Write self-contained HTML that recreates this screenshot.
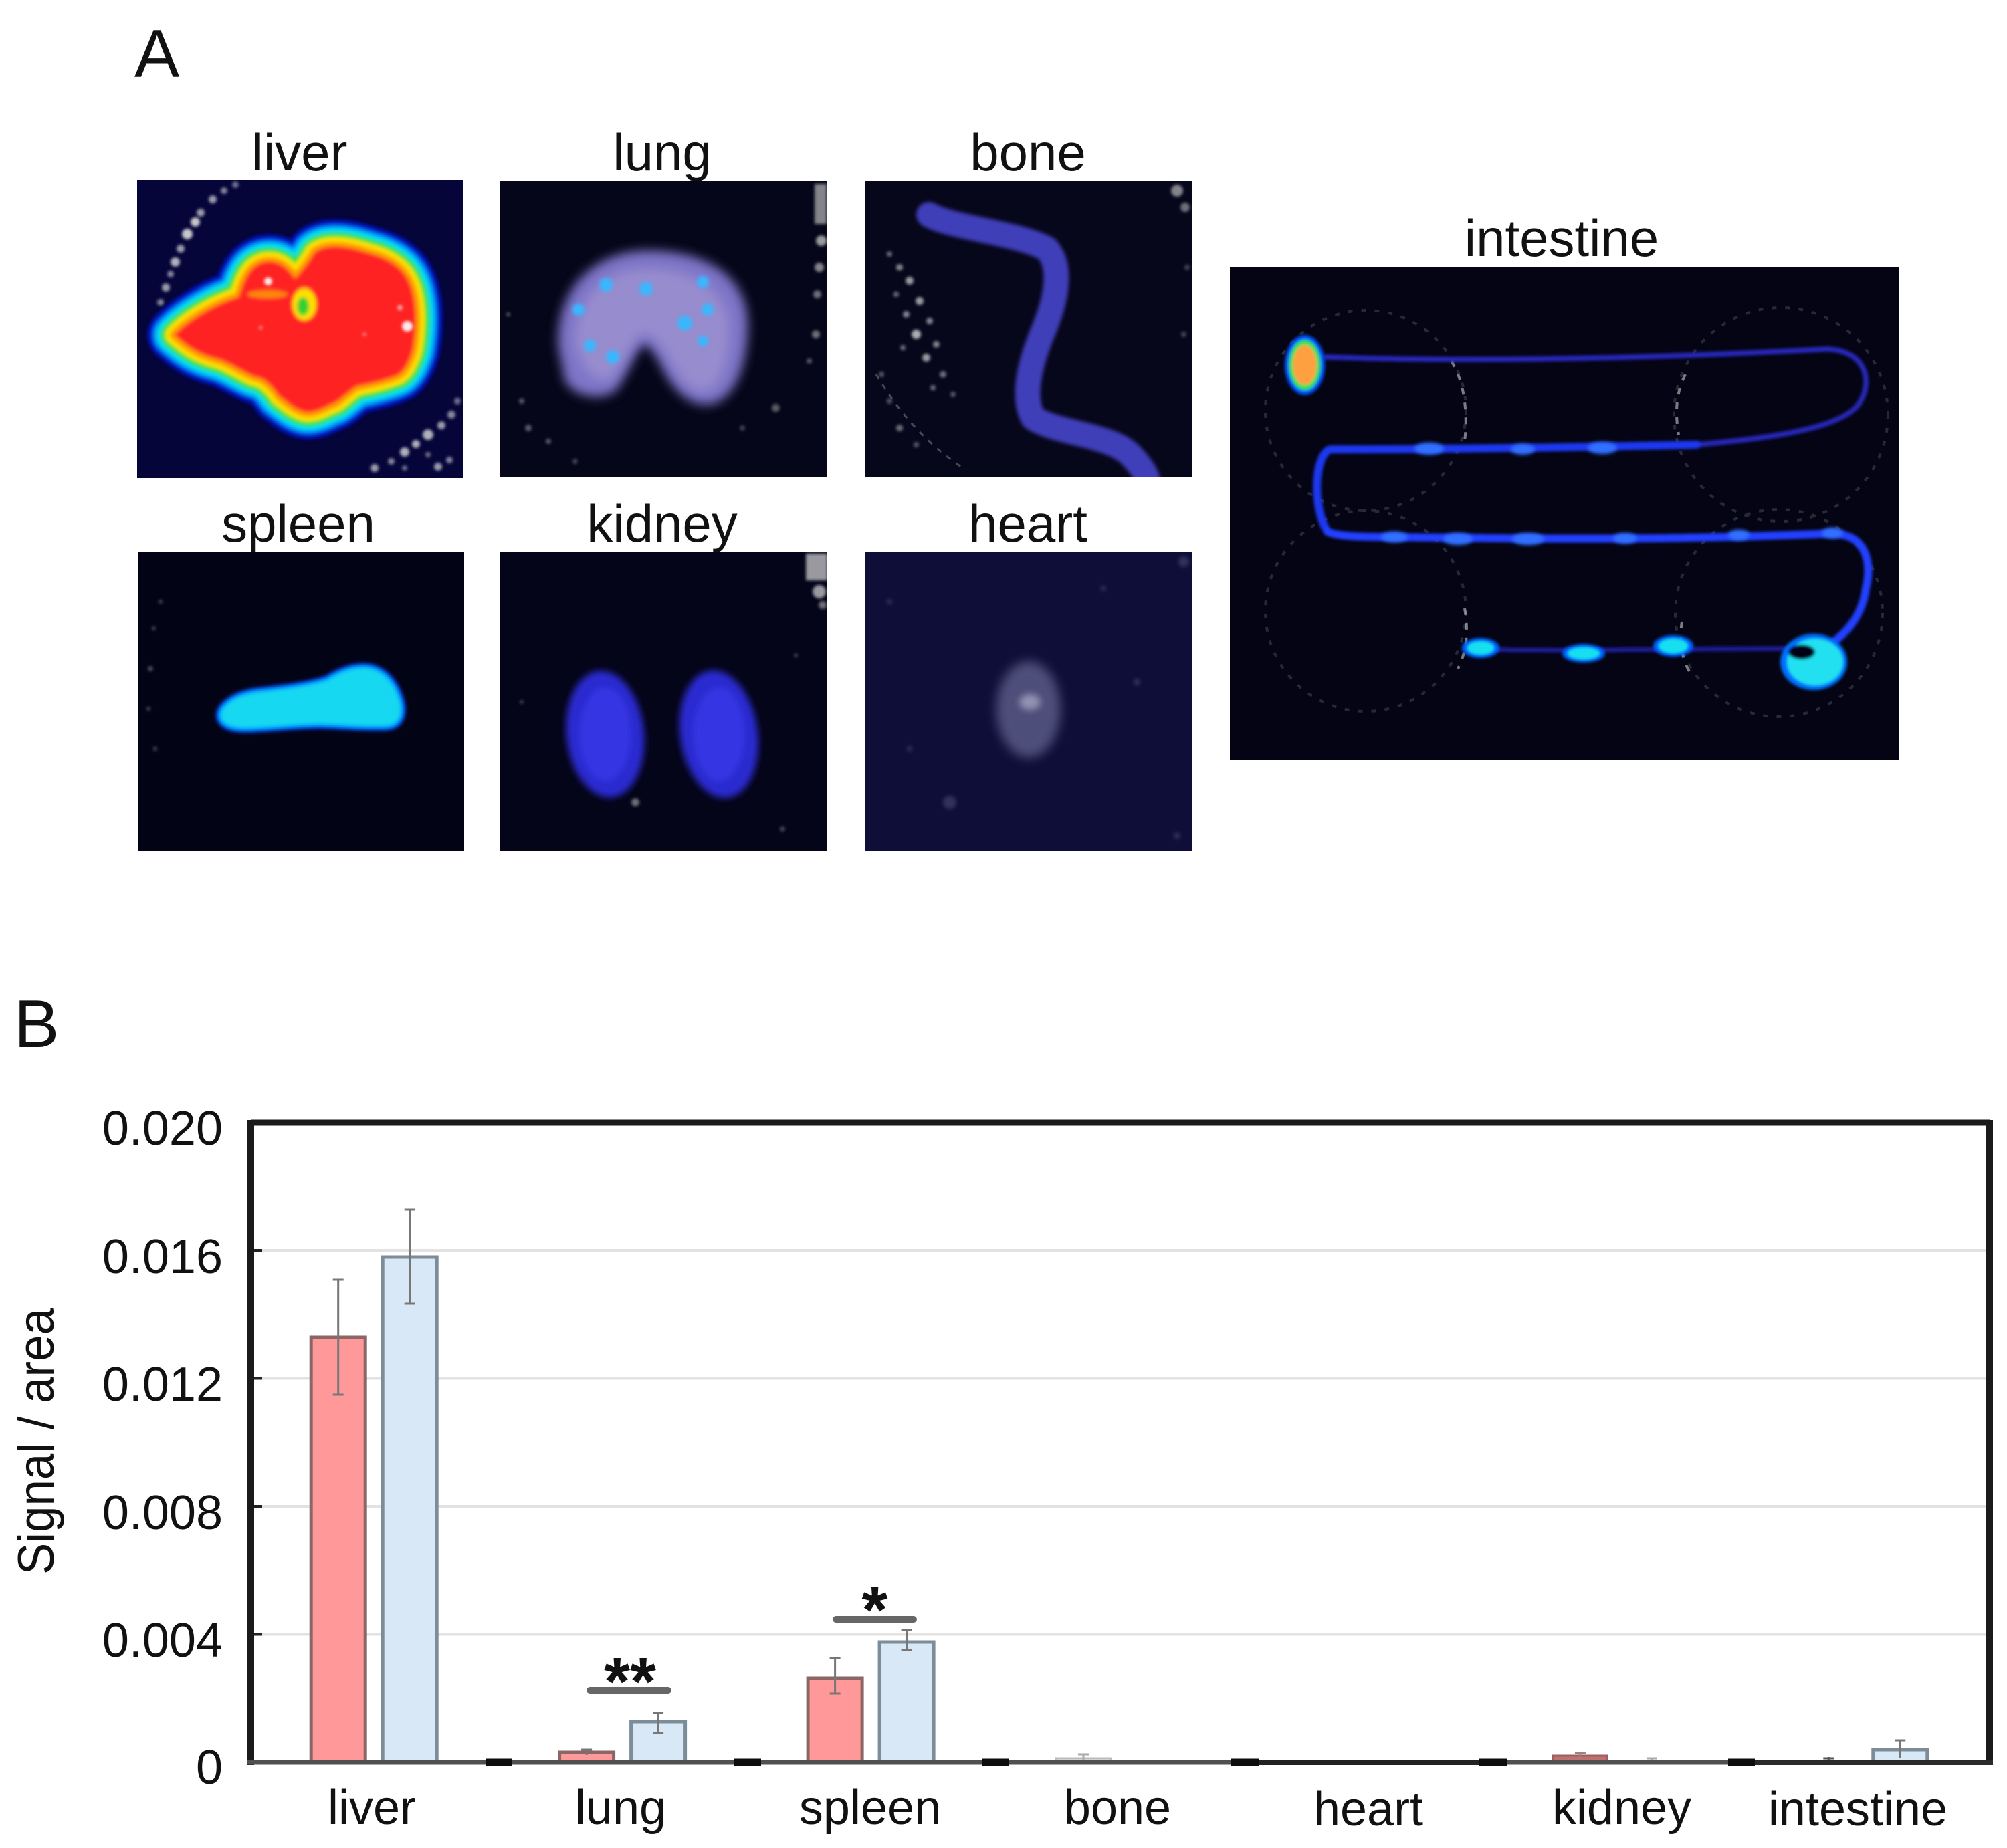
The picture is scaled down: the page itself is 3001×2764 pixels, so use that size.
<!DOCTYPE html>
<html>
<head>
<meta charset="utf-8">
<style>
html,body{margin:0;padding:0;background:#fff;}
svg{display:block;}
text{font-family:"Liberation Sans",Arial,sans-serif;fill:#111;}
</style>
</head>
<body>
<svg width="3001" height="2764" viewBox="0 0 3001 2764" xmlns="http://www.w3.org/2000/svg">
<defs>
  <filter id="b2" x="-20%" y="-20%" width="140%" height="140%"><feGaussianBlur stdDeviation="2"/></filter>
  <filter id="b3" x="-20%" y="-20%" width="140%" height="140%"><feGaussianBlur stdDeviation="3"/></filter>
  <filter id="b5" x="-30%" y="-30%" width="160%" height="160%"><feGaussianBlur stdDeviation="5"/></filter>
  <filter id="b8" x="-40%" y="-40%" width="180%" height="180%"><feGaussianBlur stdDeviation="8"/></filter>
  <filter id="b14" x="-50%" y="-50%" width="200%" height="200%"><feGaussianBlur stdDeviation="14"/></filter>
  <clipPath id="cLiver"><rect x="205" y="269" width="488" height="446"/></clipPath>
  <clipPath id="cLung"><rect x="748" y="270" width="489" height="444"/></clipPath>
  <clipPath id="cBone"><rect x="1294" y="270" width="489" height="444"/></clipPath>
  <clipPath id="cSpleen"><rect x="206" y="825" width="488" height="448"/></clipPath>
  <clipPath id="cKidney"><rect x="748" y="825" width="489" height="448"/></clipPath>
  <clipPath id="cHeart"><rect x="1294" y="825" width="489" height="448"/></clipPath>
  <clipPath id="cInt"><rect x="1839" y="400" width="1001" height="737"/></clipPath>
  <path id="lv" d="M261,501 C280,480 320,455 357,444 C365,420 372,398 395,392 C415,388 430,400 441,417 C452,405 462,392 470,378 C485,365 515,366 552,379 C580,386 600,400 609,417 C622,440 625,480 617,524 C610,548 600,560 590,563 C565,572 545,575 533,578 C515,590 505,603 494,605 C480,612 468,618 456,616 C440,612 428,600 418,593 C405,575 395,565 380,563 C355,552 340,540 322,536 C300,530 285,522 261,501 Z"/>
  <path id="sp" d="M333,1062 C345,1045 365,1040 379,1037 C420,1032 460,1028 490,1018 C510,1005 530,998 550,1000 C575,1004 590,1025 597,1050 C602,1070 595,1085 575,1085 C540,1086 510,1083 480,1082 C440,1082 400,1088 365,1088 C340,1088 325,1078 333,1062 Z"/>
</defs>

<!-- Panel letters -->
<text x="201" y="115" font-size="101">A</text>
<text x="21" y="1566" font-size="101">B</text>

<!-- Panel labels -->
<g font-size="78" text-anchor="middle">
  <text x="448" y="255">liver</text>
  <text x="990" y="255">lung</text>
  <text x="1537" y="255">bone</text>
  <text x="446" y="810">spleen</text>
  <text x="990" y="810">kidney</text>
  <text x="1537" y="810">heart</text>
  <text x="2335" y="383">intestine</text>
</g>

<!-- LIVER -->
<g clip-path="url(#cLiver)">
  <rect x="205" y="269" width="488" height="446" fill="#05053a"/>
  <g fill="#dcdcdc" filter="url(#b2)">
    <circle cx="240" cy="452" r="5" opacity=".6"/><circle cx="248" cy="430" r="6" opacity=".7"/>
    <circle cx="255" cy="410" r="5" opacity=".6"/><circle cx="262" cy="392" r="7" opacity=".8"/>
    <circle cx="270" cy="372" r="6" opacity=".7"/><circle cx="280" cy="350" r="8" opacity=".9"/>
    <circle cx="292" cy="332" r="7" opacity=".9"/><circle cx="300" cy="318" r="6" opacity=".7"/>
    <circle cx="318" cy="298" r="6" opacity=".7"/><circle cx="335" cy="285" r="5" opacity=".6"/>
    <circle cx="352" cy="276" r="5" opacity=".5"/><circle cx="250" cy="470" r="4" opacity=".4"/>
    <circle cx="560" cy="700" r="6" opacity=".7"/><circle cx="585" cy="690" r="5" opacity=".6"/>
    <circle cx="605" cy="676" r="7" opacity=".8"/><circle cx="622" cy="664" r="6" opacity=".8"/>
    <circle cx="640" cy="650" r="8" opacity=".8"/><circle cx="660" cy="636" r="6" opacity=".7"/>
    <circle cx="675" cy="620" r="6" opacity=".6"/><circle cx="684" cy="600" r="5" opacity=".5"/>
    <circle cx="655" cy="698" r="6" opacity=".7"/><circle cx="672" cy="688" r="5" opacity=".6"/>
    <circle cx="640" cy="680" r="4" opacity=".5"/><circle cx="605" cy="700" r="4" opacity=".5"/>
  </g>
  <g filter="url(#b3)">
    <use href="#lv" fill="#0030ff" stroke="#0018c8" stroke-width="80" stroke-linejoin="round"/>
    <use href="#lv" fill="#0090ff" stroke="#0090ff" stroke-width="64" stroke-linejoin="round"/>
    <use href="#lv" fill="#00e0f0" stroke="#00e0f0" stroke-width="54" stroke-linejoin="round"/>
    <use href="#lv" fill="#30e030" stroke="#30e030" stroke-width="42" stroke-linejoin="round"/>
    <use href="#lv" fill="#ffe000" stroke="#ffe000" stroke-width="28" stroke-linejoin="round"/>
    <use href="#lv" fill="#ff9a00" stroke="#ff9a00" stroke-width="14" stroke-linejoin="round"/>
    <use href="#lv" fill="#ff2222"/>
    <ellipse cx="455" cy="455" rx="18" ry="24" fill="#ffe000"/>
    <ellipse cx="453" cy="458" rx="9" ry="14" fill="#30d030"/>
    <ellipse cx="400" cy="440" rx="30" ry="6" fill="#ffb000" opacity=".7"/>
  </g>
  <g fill="#fff" filter="url(#b2)">
    <circle cx="401" cy="421" r="6" opacity=".9"/>
    <circle cx="609" cy="488" r="8" opacity=".9"/>
    <circle cx="598" cy="460" r="4" opacity=".6"/>
    <circle cx="390" cy="490" r="3" opacity=".4"/>
    <circle cx="545" cy="500" r="3" opacity=".4"/>
  </g>
</g>

<!-- LUNG -->
<g clip-path="url(#cLung)">
  <rect x="748" y="270" width="489" height="444" fill="#06061a"/>
  <g fill="#d8d8d8" filter="url(#b2)">
    <rect x="1218" y="275" width="18" height="60" opacity=".6"/>
    <circle cx="1228" cy="360" r="8" opacity=".7"/><circle cx="1225" cy="400" r="7" opacity=".6"/>
    <circle cx="1222" cy="440" r="6" opacity=".5"/><circle cx="1220" cy="500" r="6" opacity=".5"/>
    <circle cx="1210" cy="540" r="4" opacity=".4"/><circle cx="780" cy="600" r="4" opacity=".4"/>
    <circle cx="790" cy="640" r="5" opacity=".4"/><circle cx="820" cy="660" r="4" opacity=".4"/>
    <circle cx="760" cy="470" r="3" opacity=".4"/><circle cx="1160" cy="610" r="6" opacity=".4"/>
    <circle cx="1110" cy="640" r="4" opacity=".3"/><circle cx="860" cy="690" r="4" opacity=".3"/>
  </g>
  <path d="M835,520 C830,440 880,380 960,375 C1050,372 1115,410 1118,480 C1120,540 1100,600 1060,605 C1030,607 1010,585 995,560 C985,540 975,520 963,515 C950,525 940,560 920,585 C900,600 860,595 845,570 Z" fill="#7e74c8" filter="url(#b8)"/>
  <path d="M860,510 C860,450 900,405 960,402 C1030,400 1085,430 1090,485 C1092,540 1075,585 1050,585 C1030,585 1015,560 1000,535 C990,515 975,500 963,498 C945,505 935,540 915,565 C895,575 870,560 860,510 Z" fill="#a296d0" opacity=".7" filter="url(#b8)"/>
  <g fill="#38b8ff" filter="url(#b3)">
    <circle cx="906" cy="426" r="10"/><circle cx="966" cy="432" r="10"/>
    <circle cx="1051" cy="422" r="9"/><circle cx="865" cy="463" r="9"/>
    <circle cx="1024" cy="483" r="11"/><circle cx="1058" cy="463" r="9"/>
    <circle cx="882" cy="517" r="9"/><circle cx="916" cy="534" r="10"/>
    <circle cx="1051" cy="510" r="8"/>
  </g>
</g>

<!-- BONE -->
<g clip-path="url(#cBone)">
  <rect x="1294" y="270" width="489" height="444" fill="#07071c"/>
  <g fill="#d8d8d8" filter="url(#b2)">
    <circle cx="1330" cy="380" r="4" opacity=".5"/><circle cx="1345" cy="400" r="5" opacity=".6"/>
    <circle cx="1360" cy="420" r="6" opacity=".7"/><circle cx="1340" cy="440" r="4" opacity=".5"/>
    <circle cx="1375" cy="450" r="6" opacity=".7"/><circle cx="1355" cy="470" r="5" opacity=".6"/>
    <circle cx="1390" cy="480" r="5" opacity=".6"/><circle cx="1370" cy="500" r="7" opacity=".8"/>
    <circle cx="1400" cy="515" r="5" opacity=".6"/><circle cx="1385" cy="535" r="6" opacity=".7"/>
    <circle cx="1410" cy="560" r="5" opacity=".5"/><circle cx="1395" cy="580" r="4" opacity=".5"/>
    <circle cx="1425" cy="590" r="4" opacity=".4"/><circle cx="1350" cy="520" r="4" opacity=".5"/>
    <circle cx="1318" cy="560" r="4" opacity=".4"/><circle cx="1330" cy="600" r="4" opacity=".4"/>
    <circle cx="1345" cy="640" r="5" opacity=".5"/><circle cx="1370" cy="665" r="4" opacity=".4"/>
    <circle cx="1760" cy="285" r="9" opacity=".6"/><circle cx="1772" cy="310" r="7" opacity=".5"/>
    <circle cx="1775" cy="400" r="4" opacity=".3"/><circle cx="1770" cy="500" r="4" opacity=".3"/>
  </g>
  <path d="M1310,560 C1340,610 1380,660 1440,700" fill="none" stroke="#aaa" stroke-width="3" stroke-dasharray="8 10" opacity=".4"/>
  <path d="M1389,321 C1420,340 1520,348 1565,372 C1590,400 1578,450 1562,490 C1545,530 1525,590 1545,625 C1580,648 1660,650 1690,680 C1705,695 1716,712 1716,720" fill="none" stroke="#4c4ad6" stroke-width="38" stroke-linecap="round" stroke-linejoin="round" opacity=".85" filter="url(#b3)"/>
</g>

<!-- SPLEEN -->
<g clip-path="url(#cSpleen)">
  <rect x="206" y="825" width="488" height="448" fill="#030316"/>
  <g filter="url(#b3)">
    <use href="#sp" fill="#0040ff" stroke="#0040ff" stroke-width="16" stroke-linejoin="round"/>
    <use href="#sp" fill="#00a8ff" stroke="#00a8ff" stroke-width="8" stroke-linejoin="round"/>
    <use href="#sp" fill="#18d8f0"/>
  </g>
  <g fill="#cfcfcf" opacity=".35" filter="url(#b2)">
    <circle cx="225" cy="1000" r="4"/><circle cx="222" cy="1060" r="3"/><circle cx="230" cy="940" r="3"/>
    <circle cx="240" cy="900" r="3"/><circle cx="232" cy="1120" r="3"/>
  </g>
</g>

<!-- KIDNEY -->
<g clip-path="url(#cKidney)">
  <rect x="748" y="825" width="489" height="448" fill="#05051a"/>
  <g fill="#d8d8d8" filter="url(#b2)">
    <rect x="1205" y="828" width="32" height="40" opacity=".7"/>
    <circle cx="1225" cy="885" r="10" opacity=".7"/><circle cx="1230" cy="905" r="6" opacity=".5"/>
    <circle cx="950" cy="1200" r="6" opacity=".5"/><circle cx="1170" cy="1240" r="4" opacity=".3"/>
    <circle cx="780" cy="1050" r="3" opacity=".3"/><circle cx="1190" cy="980" r="3" opacity=".3"/>
  </g>
  <g filter="url(#b5)">
    <ellipse cx="905" cy="1098" rx="58" ry="95" fill="#2a2ad0" transform="rotate(-6 905 1098)"/>
    <ellipse cx="1075" cy="1098" rx="58" ry="96" fill="#2a2ad0" transform="rotate(-8 1075 1098)"/>
    <ellipse cx="905" cy="1098" rx="38" ry="70" fill="#3a3aec" opacity=".7"/>
    <ellipse cx="1075" cy="1098" rx="38" ry="70" fill="#3a3aec" opacity=".7"/>
  </g>
</g>

<!-- HEART -->
<g clip-path="url(#cHeart)">
  <rect x="1294" y="825" width="489" height="448" fill="#0e0e38"/>
  <g fill="#9a9ac0" opacity=".25" filter="url(#b3)">
    <circle cx="1330" cy="900" r="4"/><circle cx="1420" cy="1200" r="10"/><circle cx="1700" cy="1020" r="5"/>
    <circle cx="1760" cy="1250" r="5"/><circle cx="1360" cy="1120" r="4"/><circle cx="1650" cy="880" r="4"/>
    <circle cx="1770" cy="840" r="8"/>
  </g>
  <ellipse cx="1538" cy="1061" rx="48" ry="72" fill="#7a7aa8" opacity=".6" filter="url(#b8)"/>
  <ellipse cx="1540" cy="1050" rx="16" ry="12" fill="#c0c0d8" opacity=".6" filter="url(#b5)"/>
</g>

<!-- INTESTINE -->
<g clip-path="url(#cInt)">
  <rect x="1839" y="400" width="1001" height="737" fill="#040414"/>
  <g fill="none" stroke="#d0d0d0" stroke-width="4" stroke-dasharray="7 13" opacity=".18">
    <circle cx="2042" cy="614" r="150"/>
    <circle cx="2663" cy="620" r="160"/>
    <circle cx="2042" cy="914" r="150"/>
    <circle cx="2660" cy="917" r="155"/>
  </g>
  <g stroke="#e0e0e0" stroke-width="4" fill="none" opacity=".55" stroke-dasharray="10 12">
    <path d="M2170,540 C2190,570 2195,620 2190,660"/>
    <path d="M2520,560 C2505,590 2505,620 2510,650"/>
    <path d="M2190,910 C2195,940 2195,970 2180,1000"/>
    <path d="M2515,930 C2510,960 2515,990 2530,1010"/>
  </g>
  <g fill="none" stroke-linecap="round" stroke-linejoin="round" filter="url(#b2)">
    <path d="M1982,534 C2150,540 2400,540 2733,522 C2790,525 2800,570 2782,600 C2760,640 2650,655 2537,665" stroke="#2828b8" stroke-width="8"/>
    <path d="M2537,665 C2400,668 2200,672 1989,672 C1965,680 1962,760 1985,795" stroke="#1e38f0" stroke-width="12"/>
    <path d="M1985,795 C2000,803 2050,803 2067,803 C2300,806 2500,808 2733,798 C2790,795 2800,840 2790,880 C2785,920 2760,950 2730,968" stroke="#2040ff" stroke-width="12"/>
    <path d="M2684,970 C2500,970 2300,975 2193,970" stroke="#1c1c98" stroke-width="7"/>
  </g>
  <g fill="#3070ff" filter="url(#b3)">
    <ellipse cx="2137" cy="671" rx="22" ry="9"/><ellipse cx="2277" cy="672" rx="18" ry="8"/>
    <ellipse cx="2396" cy="670" rx="22" ry="9"/>
    <ellipse cx="2085" cy="803" rx="20" ry="8"/><ellipse cx="2180" cy="806" rx="22" ry="9"/>
    <ellipse cx="2285" cy="806" rx="24" ry="9"/><ellipse cx="2430" cy="805" rx="18" ry="8"/>
    <ellipse cx="2600" cy="800" rx="16" ry="8"/><ellipse cx="2740" cy="797" rx="16" ry="8"/>
  </g>
  <g filter="url(#b2)">
    <ellipse cx="2214" cy="969" rx="28" ry="15" fill="#0060ff"/>
    <ellipse cx="2214" cy="969" rx="20" ry="10" fill="#18e0f0"/>
    <ellipse cx="2368" cy="977" rx="32" ry="14" fill="#0060ff"/>
    <ellipse cx="2368" cy="977" rx="24" ry="9" fill="#18e0f0"/>
    <ellipse cx="2502" cy="966" rx="30" ry="16" fill="#0060ff"/>
    <ellipse cx="2502" cy="966" rx="22" ry="11" fill="#18e0f0"/>
    <ellipse cx="2712" cy="990" rx="50" ry="42" fill="#0070ff"/>
    <ellipse cx="2714" cy="990" rx="42" ry="35" fill="#20e0f0"/>
    <ellipse cx="2694" cy="975" rx="20" ry="11" fill="#040414"/>
    <ellipse cx="1951" cy="546" rx="30" ry="45" fill="#0050ff"/>
    <ellipse cx="1951" cy="546" rx="24" ry="38" fill="#30e060"/>
    <ellipse cx="1951" cy="546" rx="18" ry="30" fill="#ffa040"/>
  </g>
</g>

<!-- CHART B -->
<g stroke="#e2e2e2" stroke-width="4">
  <line x1="380" y1="2444.5" x2="2970" y2="2444.5"/>
  <line x1="380" y1="2253" x2="2970" y2="2253"/>
  <line x1="380" y1="2061.5" x2="2970" y2="2061.5"/>
  <line x1="380" y1="1870" x2="2970" y2="1870"/>
</g>
<g stroke="#222" stroke-width="4">
  <line x1="375" y1="2444.5" x2="392" y2="2444.5"/>
  <line x1="375" y1="2253" x2="392" y2="2253"/>
  <line x1="375" y1="2061.5" x2="392" y2="2061.5"/>
  <line x1="375" y1="1870" x2="392" y2="1870"/>
</g>

<g stroke-width="5">
  <rect x="465.2" y="2000" width="81" height="636" fill="#ff9898" stroke="#8a6666"/>
  <rect x="572.2" y="1880" width="81" height="756" fill="#d8e8f6" stroke="#7c8c98"/>
  <rect x="836.6" y="2621" width="81" height="15" fill="#ff9898" stroke="#8a6666"/>
  <rect x="943.6" y="2575" width="81" height="61" fill="#d8e8f6" stroke="#7c8c98"/>
  <rect x="1208.1" y="2510" width="81" height="126" fill="#ff9898" stroke="#8a6666"/>
  <rect x="1315.1" y="2456" width="81" height="180" fill="#d8e8f6" stroke="#7c8c98"/>
  <rect x="1579.5" y="2630" width="81" height="6" fill="#e8e8e8" stroke="#bbbbbb" stroke-width="3"/>
  <rect x="2322.4" y="2626" width="81" height="10" fill="#c07070" stroke="#9a6060" stroke-width="3"/>
  <rect x="2800.8" y="2617" width="81" height="19" fill="#d8e8f6" stroke="#7c8c98"/>
</g>

<g stroke="#777" stroke-width="3" fill="none">
  <path d="M505.7,1914 V2086 M497.7,1914 H513.7 M497.7,2086 H513.7"/>
  <path d="M612.7,1809 V1950 M604.7,1809 H620.7 M604.7,1950 H620.7"/>
  <path d="M877.1,2617 V2625 M869.1,2617 H885.1"/>
  <path d="M984.1,2562 V2592 M976.1,2562 H992.1 M976.1,2592 H992.1"/>
  <path d="M1248.6,2480 V2533 M1240.6,2480 H1256.6 M1240.6,2533 H1256.6"/>
  <path d="M1355.6,2438 V2468 M1347.6,2438 H1363.6 M1347.6,2468 H1363.6"/>
  <path d="M1620,2624 V2636 M1612,2624 H1628" stroke="#aaa"/>
  <path d="M2362.9,2622 V2630 M2354.9,2622 H2370.9" stroke="#a08080"/>
  <path d="M2469.9,2630 V2636 M2461.9,2630 H2477.9" stroke="#aaa"/>
  <path d="M2734.3,2628 V2636 M2726.3,2630 H2742.3" stroke="#555"/>
  <path d="M2841.3,2603 V2630 M2833.3,2603 H2849.3"/>
</g>

<g fill="none" stroke="#1a1a1a">
  <line x1="375" y1="1679" x2="2975" y2="1679" stroke-width="9"/>
  <line x1="375" y1="1675" x2="375" y2="2640" stroke-width="10"/>
  <line x1="2975" y1="1675" x2="2975" y2="2640" stroke-width="10"/>
  <line x1="370" y1="2636" x2="2980" y2="2636" stroke="#505050" stroke-width="7"/>
  <line x1="1861" y1="2636" x2="2232" y2="2636" stroke="#222" stroke-width="8"/>
  <line x1="2604" y1="2636" x2="2980" y2="2636" stroke="#2a2a2a" stroke-width="8"/>
</g>
<g stroke="#0d0d0d" stroke-width="11">
  <line x1="726" y1="2636" x2="766" y2="2636"/>
  <line x1="1098" y1="2636" x2="1138" y2="2636"/>
  <line x1="1469" y1="2636" x2="1509" y2="2636"/>
  <line x1="1840" y1="2636" x2="1882" y2="2636"/>
  <line x1="2212" y1="2636" x2="2254" y2="2636"/>
  <line x1="2584" y1="2636" x2="2624" y2="2636"/>
</g>

<g stroke="#666" stroke-width="10" stroke-linecap="round">
  <line x1="882" y1="2528" x2="999" y2="2528"/>
  <line x1="1250" y1="2422" x2="1366" y2="2422"/>
</g>
<text x="942" y="2549" font-size="100" font-weight="bold" text-anchor="middle">**</text>
<text x="1308" y="2442" font-size="100" font-weight="bold" text-anchor="middle">*</text>

<g font-size="72" text-anchor="end">
  <text x="333" y="1712">0.020</text>
  <text x="333" y="1904">0.016</text>
  <text x="333" y="2095">0.012</text>
  <text x="333" y="2287">0.008</text>
  <text x="333" y="2478">0.004</text>
  <text x="333" y="2668">0</text>
</g>

<text transform="translate(80,2355) rotate(-90)" x="0" y="0" font-size="76" textLength="398" lengthAdjust="spacingAndGlyphs">Signal / area</text>

<g font-size="72" text-anchor="middle">
  <text x="556" y="2728">liver</text>
  <text x="928" y="2728">lung</text>
  <text x="1301" y="2728">spleen</text>
  <text x="1671" y="2728">bone</text>
  <text x="2046" y="2730">heart</text>
  <text x="2425" y="2728">kidney</text>
  <text x="2778" y="2730">intestine</text>
</g>
</svg>
</body>
</html>
